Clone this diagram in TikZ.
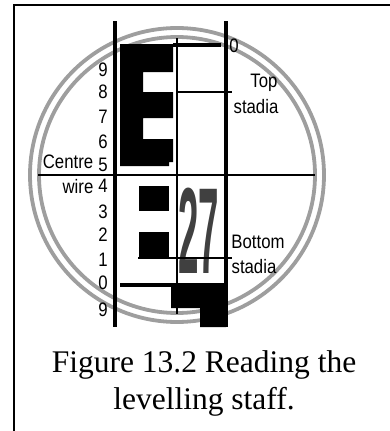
\documentclass[tikz,border=0pt]{standalone}
\usepackage{fontspec}
\setmainfont{Liberation Serif}
\newfontfamily\labelfont{Liberation Sans}
\tikzset{
  ringline/.style={draw=black!38,line width=3.8pt},
  staffline/.style={line width=3.2pt},
  hairline/.style={line width=1.6pt},
  zeroline/.style={line width=3.2pt},
  lbl/.style={inner sep=0pt,transform shape,xscale=.86,font=\labelfont\fontsize{19.5}{19.5}\selectfont},
}
\begin{document}
\begin{tikzpicture}[x=1pt,y=-1pt]
\useasboundingbox (0,0) rectangle (390,431);
\draw[line width=2.4pt] (14,431) -- (14,5) -- (390,5);
\draw[ringline] (177,175) circle[radius=147pt];
\draw[ringline] (177,175) circle[radius=138pt];
\fill (120,44) -- (173,44) -- (173,72) -- (143,72) -- (143,92) -- (173,92) -- (173,118) -- (143,118) -- (143,139) -- (173,139) -- (173,162) -- (169,162) -- (169,166) -- (120,166) -- cycle;
\fill (139,186) rectangle (169,211);
\fill (139,232) rectangle (169,258);
\fill (171,283) -- (226,283) -- (226,327) -- (200,327) -- (200,308) -- (171,308) -- cycle;
\node[inner sep=0pt,text=black!75] (staffnum) at (199,231) {\labelfont\bfseries\scalebox{1.08}[3.6]{\fontsize{34}{34}\selectfont 27}};
\draw[staffline] (115,21) -- (115,327);
\draw[staffline] (226,21) -- (226,327);
\draw[hairline] (177,38) -- (177,314);
\draw[hairline] (38,175) -- (315,175);
\draw[hairline] (177,92) -- (232,92);
\draw[hairline] (138,258) -- (232,258);
\draw[zeroline] (173,45) -- (221,45);
\draw[zeroline] (120,285) -- (171,285);
\foreach \name/\val/\ypos in {a/9/70,b/8/92,c/7/117,d/6/142,e/5/165,f/4/186,g/3/212,h/2/235,i/1/260,j/0/283,k/9/310}
  \node[lbl] (digit\name) at (103,\ypos) {\val};
\node[lbl] (topzero) at (234,46) {0};
\node[lbl] (topword) at (264,83) {Top};
\node[lbl] (topstadia) at (256,107) {stadia};
\node[lbl] (botword) at (258,242) {Bottom};
\node[lbl] (botstadia) at (254,267) {stadia};
\node[lbl] (centreword) at (68,162) {Centre};
\node[lbl] (wireword) at (78,187) {wire};
\node[align=center,inner sep=0pt,font=\fontsize{31.5}{37}\selectfont] (caption) at (204,383) {Figure 13.2 Reading the\\levelling staff.};
\end{tikzpicture}
\end{document}
